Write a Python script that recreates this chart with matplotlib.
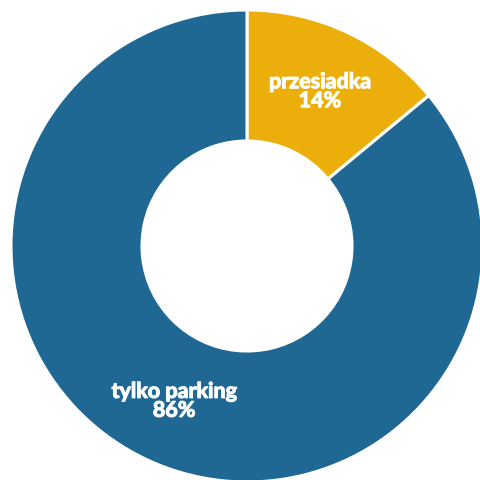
import matplotlib.pyplot as plt
import matplotlib.patheffects as pe

categories = ["przesiadka", "tylko parking"]
values = [14, 86]
colors = ["#ecae0b", "#1e6893"]

fig = plt.figure(figsize=(4.81, 4.81), dpi=100)
ax = fig.add_axes([0, 0, 1, 1])

R_px = 236
cx, cy = 247, 247
xmin = -cx / R_px
xmax = xmin + 481 / R_px
ymax = cy / R_px
ymin = ymax - 481 / R_px

wedges, texts = ax.pie(
    values,
    colors=colors,
    startangle=90,
    counterclock=False,
    radius=1.0,
    wedgeprops=dict(width=0.555, edgecolor="white", linewidth=2.2),
    labels=[f"{c}\n{v}%" for c, v in zip(categories, values)],
    labeldistance=0.725,
    textprops=dict(color="white", fontsize=15.5, fontweight="bold",
                   family=["Lato", "DejaVu Sans"], ha="center", va="center",
                   linespacing=0.88),
)
for t in texts:
    t.set_horizontalalignment("center")
    t.set_verticalalignment("center")
    t.set_path_effects([pe.Stroke(linewidth=0.8, foreground="white"), pe.Normal()])

ax.set_xlim(xmin, xmax)
ax.set_ylim(ymin, ymax)
ax.set_aspect("equal")
ax.axis("off")

fig.savefig("out.png", dpi=100, facecolor="white")
